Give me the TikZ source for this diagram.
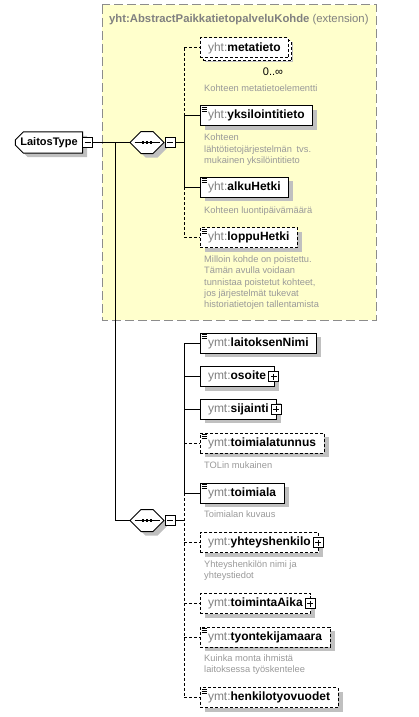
\documentclass[tikz,border=0pt]{standalone}
\usepackage{fontspec}
\setmainfont{Liberation Sans}
\usetikzlibrary{shapes.misc,shadows}

\definecolor{grpfill}{HTML}{FFFFCC}
\definecolor{grpline}{HTML}{8C8C8C}
\definecolor{nsgray}{HTML}{808080}
\definecolor{descgray}{HTML}{999999}
\definecolor{shadowgray}{HTML}{C0C0C0}

\newcommand{\elname}[2]{\textcolor{nsgray}{#1:}\textbf{#2}}

\begin{document}
\begin{tikzpicture}[
        x=1pt, y=-1pt,
        font=\fontsize{12}{14}\selectfont,
        conn/.style={line width=1pt},
        optline/.style={line width=1pt, dash pattern=on 3pt off 2pt},
        shade/.style={drop shadow={shadow xshift=4.5pt, shadow yshift=-4pt, fill=shadowgray, opacity=1}},
        elem/.style={rectangle, draw, fill=white, line width=1pt, anchor=west,
            minimum height=20, inner xsep=8, inner ysep=0, shade},
        optelem/.style={elem, dash pattern=on 3pt off 2pt},
        seq/.style={chamfered rectangle, chamfered rectangle xsep=6pt, chamfered rectangle ysep=6pt,
            draw, fill=white, line width=1pt, inner sep=0, shade},
        togglebox/.style={rectangle, draw, fill=white, line width=0.8pt, minimum size=10, inner sep=0},
        minusbox/.style={togglebox, path picture={
            \draw[line width=0.8pt] ([xshift=2]path picture bounding box.west) -- ([xshift=-2]path picture bounding box.east);}},
        plusbox/.style={togglebox, path picture={
            \draw[line width=0.8pt] ([xshift=2]path picture bounding box.west) -- ([xshift=-2]path picture bounding box.east);
            \draw[line width=0.8pt] ([yshift=-2]path picture bounding box.north) -- ([yshift=2]path picture bounding box.south);}},
        desc/.style={anchor=north west, inner sep=0, align=left, text=descgray,
            font=\fontsize{9.3}{11.3}\selectfont}
    ]
    \useasboundingbox (0,0) rectangle (418,717);

    % Extension group
    \draw[grpline, fill=grpfill, line width=1pt, dash pattern=on 9pt off 4pt] (102,5) rectangle (376,320);
    \node[anchor=base west, inner sep=0, text=nsgray, font=\fontsize{11.3}{13}\selectfont] (ext-title) at (109,23)
        {\textbf{yht:AbstractPaikkatietopalveluKohde} (extension)};

    % Complex type and sequences
    \node[chamfered rectangle, chamfered rectangle xsep=4pt, chamfered rectangle ysep=4pt,
          chamfered rectangle corners={north west,south west},
          draw, fill=white, line width=1pt, inner xsep=1, inner ysep=1.5, shade,
          font=\fontsize{11}{13}\selectfont]
          (laitos) at (49,142.5) {\textbf{LaitosType}\hspace{8pt}};
    \node[minusbox] (laitos-tg) at (87.5,142.5) {};

    \node[seq] (seq1) at (147,142.5) {\rule{0pt}{10pt}\rule{24pt}{0pt}};
    \node[minusbox] (seq1-tg) at (170,142.5) {};
    \node[seq] (seq2) at (147,520.5) {\rule{0pt}{10pt}\rule{24pt}{0pt}};
    \node[minusbox] (seq2-tg) at (170,520.5) {};
    \foreach \s in {seq1,seq2} {
        \draw[line width=1pt] ([xshift=5]\s.west) -- ([xshift=-5]\s.east);
        \foreach \d in {-4,0,4}
            \fill ([xshift=\d]\s.center) +(-1.4,-1.4) rectangle +(1.4,1.4);
    }

    % Elements of the extension
    \node[optelem, copy shadow={shadow xshift=3pt, shadow yshift=-3pt, draw, fill=white,
          line width=1pt, dash pattern=on 3pt off 2pt}]
          (metatieto) at (199.5,48) {\elname{yht}{metatieto}};
    \node[inner sep=0, font=\fontsize{11}{13}\selectfont] (metatieto-occ) at (273,72) {0..∞};
    \node[desc] (metatieto-d) at (204,84.5) {Kohteen metatietoelementti};

    \node[elem] (yksilo) at (199.5,115.5) {\elname{yht}{yksilointitieto}};
    \node[desc] (yksilo-d) at (204,134) {Kohteen\\lähtötietojärjestelmän\hspace{2pt} tvs.\\mukainen yksilöintitieto};

    \node[elem] (alku) at (199.5,187) {\elname{yht}{alkuHetki}};
    \node[desc] (alku-d) at (204,206.5) {Kohteen luontipäivämäärä};

    \node[optelem] (loppu) at (199.5,237.5) {\elname{yht}{loppuHetki}};
    \node[desc] (loppu-d) at (204,255.5) {Milloin kohde on poistettu.\\Tämän avulla voidaan\\tunnistaa poistetut kohteet,\\jos järjestelmät tukevat\\historiatietojen tallentamista};

    % Elements of LaitosType
    \node[elem] (laitoksenNimi) at (199.5,343) {\elname{ymt}{laitoksenNimi}};
    \node[elem] (osoite) at (199.5,376.5) {\elname{ymt}{osoite}\hspace{6pt}};
    \node[elem] (sijainti) at (199.5,409) {\elname{ymt}{sijainti}\hspace{6pt}};
    \node[optelem] (toimialatunnus) at (199.5,443) {\elname{ymt}{toimialatunnus}};
    \node[desc] (toimialatunnus-d) at (204,461.5) {TOLin mukainen};
    \node[elem] (toimiala) at (199.5,493) {\elname{ymt}{toimiala}};
    \node[desc] (toimiala-d) at (204,510.5) {Toimialan kuvaus};
    \node[optelem] (yhteyshenkilo) at (199.5,542.5) {\elname{ymt}{yhteyshenkilo}\hspace{6pt}};
    \node[desc] (yhteyshenkilo-d) at (204,560.5) {Yhteyshenkilön nimi ja\\yhteystiedot};
    \node[optelem] (toimintaAika) at (199.5,603.5) {\elname{ymt}{toimintaAika}\hspace{6pt}};
    \node[optelem] (tyontekijamaara) at (199.5,637) {\elname{ymt}{tyontekijamaara}};
    \node[desc] (tyontekijamaara-d) at (204,654.5) {Kuinka monta ihmistä\\laitoksessa työskentelee};
    \node[optelem] (henkilotyovuodet) at (199.5,697.5) {\elname{ymt}{henkilotyovuodet}};

    % Expand boxes
    \foreach \n in {osoite,sijainti,yhteyshenkilo,toimintaAika}
        \node[plusbox] (\n-tg) at ([xshift=-1]\n.east) {};

    % Simple content marks
    \foreach \n in {yksilo,alku,loppu,laitoksenNimi,toimialatunnus,toimiala,tyontekijamaara,henkilotyovuodet}
        \foreach \k in {2,4,6}
            \draw[line width=0.8pt] ([shift={(2,\k)}]\n.north west) -- ++(5.5,0);

    % Connections
    \coordinate (trunk) at (115,142.5);
    \coordinate (comb1) at (184,142.5);
    \coordinate (comb2) at (184,520.5);
    \draw[conn] (laitos-tg.east) -- (seq1.west);
    \draw[conn] (trunk) |- (seq2.west);
    \draw[conn] (seq1-tg.east) -- (comb1);
    \draw[conn] (seq2-tg.east) -- (comb2);

    \draw[optline] (comb1 |- metatieto.west) -- (comb1 |- yksilo.west);
    \draw[conn] (comb1 |- yksilo.west) -- (comb1 |- alku.west);
    \draw[optline] (comb1 |- alku.west) -- (comb1 |- loppu.west);
    \draw[conn] (comb2 |- laitoksenNimi.west) -- (comb2 |- toimiala.west);
    \draw[optline] (comb2 |- toimiala.west) -- (comb2 |- henkilotyovuodet.west);

    \foreach \n in {yksilo,alku}
        \draw[conn] (comb1 |- \n.west) -- (\n.west);
    \foreach \n in {metatieto,loppu}
        \draw[optline] (comb1 |- \n.west) -- (\n.west);
    \foreach \n in {laitoksenNimi,osoite,sijainti,toimiala}
        \draw[conn] (comb2 |- \n.west) -- (\n.west);
    \foreach \n in {toimialatunnus,yhteyshenkilo,toimintaAika,tyontekijamaara,henkilotyovuodet}
        \draw[optline] (comb2 |- \n.west) -- (\n.west);
\end{tikzpicture}
\end{document}
